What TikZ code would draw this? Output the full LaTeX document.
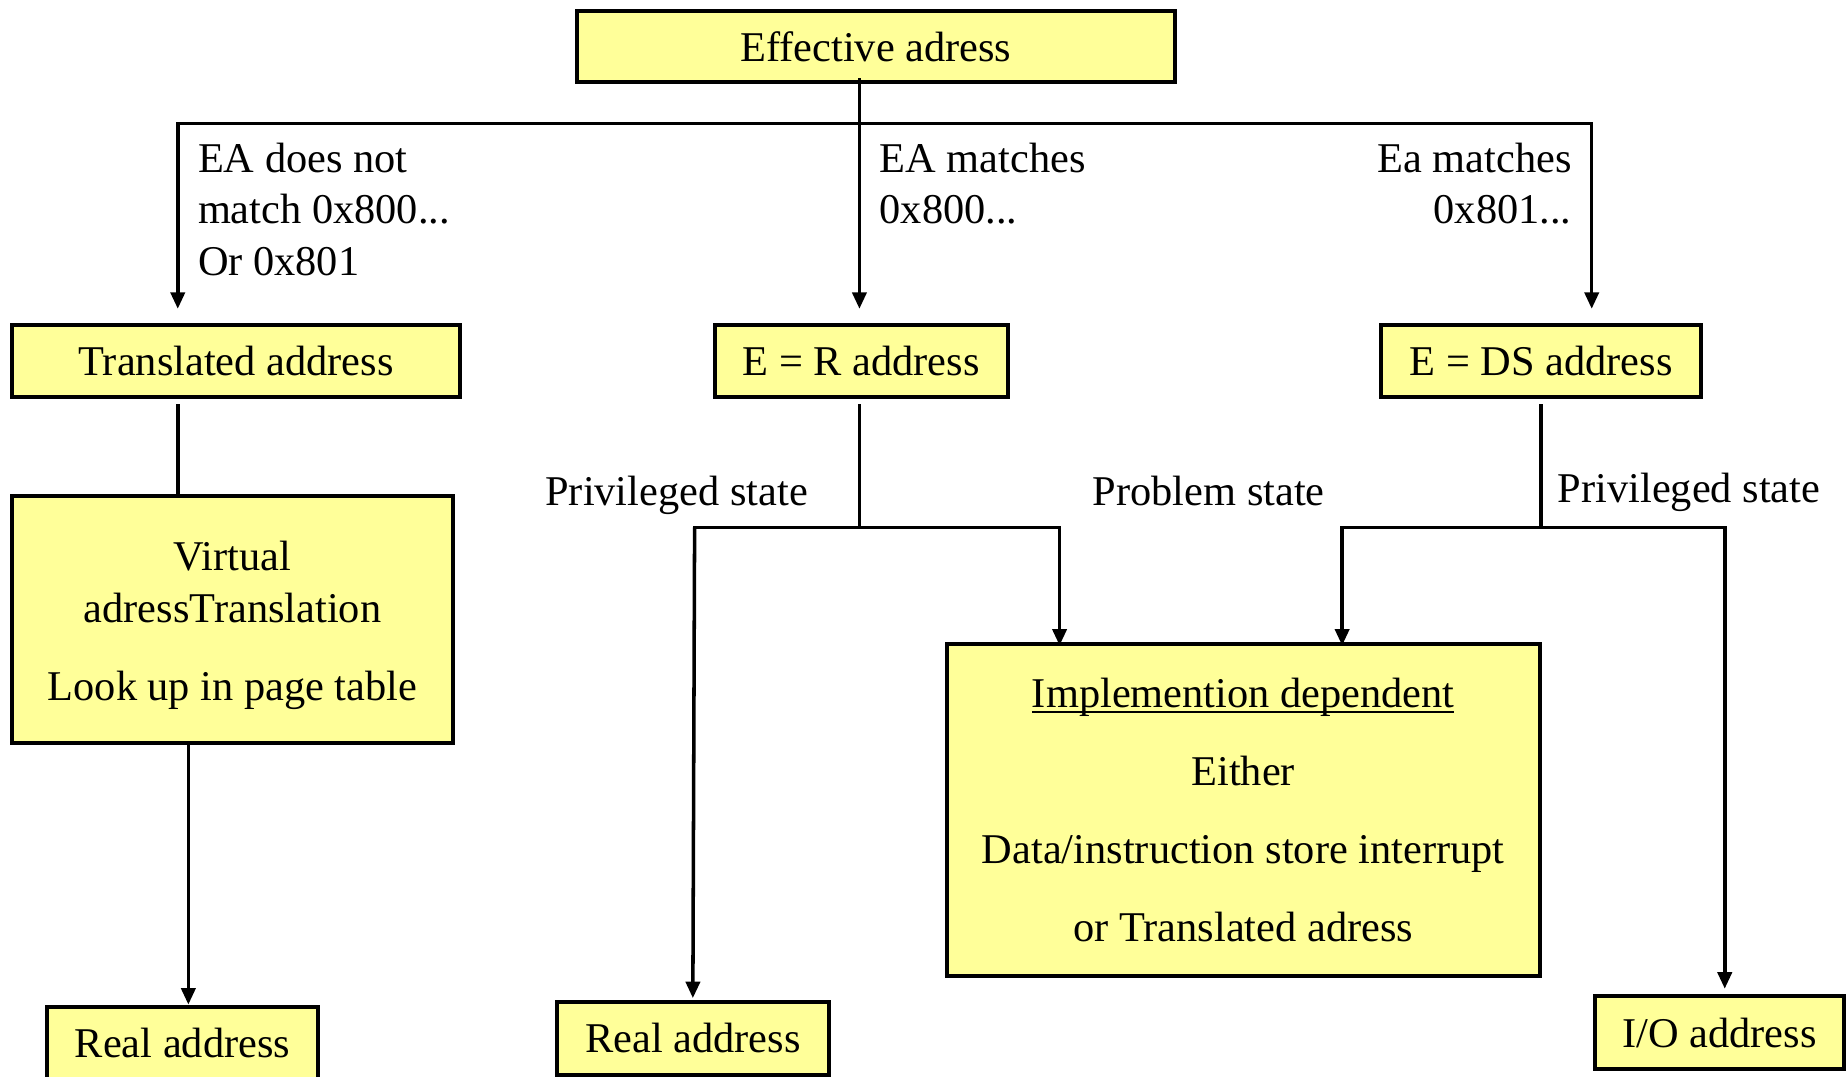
\documentclass[tikz,border=0pt]{standalone}
\usepackage{fontspec}
\setmainfont{Liberation Serif}
\usetikzlibrary{arrows.meta}
\definecolor{boxfill}{RGB}{255,255,153}
% underline set close to the baseline
\newcommand\ulined[1]{\setbox0\hbox{#1}\rlap{\rule[-4pt]{\wd0}{1.8pt}}\box0}
\begin{document}
\begin{tikzpicture}[x=1pt,y=-1pt,
  every node/.style={font=\fontsize{36}{44}\selectfont, inner sep=0pt},
  box/.style={draw, line width=3.4pt, fill=boxfill, minimum height=61pt},
  link/.style={line width=3pt, line cap=rect},
  arrow/.style={line width=3pt, -{Triangle[length=14pt,width=12pt]}}]

\useasboundingbox (0,0) rectangle (1568,914);

% boxes
\node[box, minimum width=508pt] (ea) at (744,39.5) {Effective adress};
\node[box, minimum width=381pt] (tr) at (200.5,306.5) {Translated address};
\node[box, minimum width=249pt] (er) at (731.5,306.5) {E = R address};
\node[box, minimum width=272pt] (ds) at (1309,306.5) {E = DS address};
\node[box, minimum width=375pt, minimum height=210pt, align=center] (virt) at (197.5,526)
  {\rule{0pt}{35pt}Virtual\\adressTranslation\\[22pt]Look up in page table};
\node[box, minimum width=230pt, minimum height=62pt] (real1) at (155,886) {Real address};
\node[box, minimum width=231pt, minimum height=62pt] (real2) at (588.5,882) {Real address};
\node[box, minimum width=211pt, minimum height=62pt] (io) at (1460.5,877) {I/O address};
\node[box, minimum width=504pt, minimum height=282pt, align=center,
  font=\fontsize{36}{66}\selectfont] (impl) at (1056,688)
  {\ulined{Implemention dependent}\\Either\\Data/instruction store interrupt\\or Translated adress};

% branch labels
\node[anchor=north west, align=left] (lnone) at (168,121) {EA does not\\match 0x800...\\Or 0x801};
\node[anchor=north west, align=left] (lr) at (747,121) {EA matches\\0x800...};
\node[anchor=north east, align=right] (lds) at (1335,121) {Ea matches\\0x801...};
\node[anchor=base west] (lpriv1) at (463,429) {Privileged state};
\node[anchor=base west] (lprob) at (928,429) {Problem state};
\node[anchor=base west] (lpriv2) at (1323,427) {Privileged state};

% junction points
\coordinate (j0) at (730,105);
\coordinate (hl) at (151,105);
\coordinate (hr) at (1352,105);
\coordinate (j1) at (730,448);
\coordinate (j1l) at (590,448);
\coordinate (j1r) at (900,448);
\coordinate (j2) at (1309,448);
\coordinate (j2l) at (1140,448);
\coordinate (j2r) at (1465,448);
\coordinate (vx) at (160,631);

% top split
\draw[link] ([yshift=4pt]ea.south -| j0) -- (j0);
\draw[link] (hl) -- (hr);
\draw[arrow, shorten >=12pt] (hl) -- (tr.north -| hl);
\draw[arrow, shorten >=12pt] (j0) -- (er.north -| j0);
\draw[arrow, shorten >=12pt] (hr) -- (ds.north -| hr);

% translated path
\draw[link] ([yshift=-6pt]tr.south -| hl) -- (virt.north -| hl);
\draw[arrow] (virt.south -| vx) -- (real1.north -| vx);

% E = R split
\draw[link] ([yshift=-6pt]er.south -| j1) -- (j1);
\draw[link] (j1l) -- (j1r);
\draw[arrow, shorten >=1.5pt] (j1l) -- (real2.north);
\draw[arrow, shorten >=-3pt] (j1r) -- (impl.north -| j1r);

% E = DS split
\draw[link] ([yshift=-6pt]ds.south -| j2) -- (j2);
\draw[link] (j2l) -- (j2r);
\draw[arrow, shorten >=-3pt] (j2l) -- (impl.north -| j2l);
\draw[arrow, shorten >=4.5pt] (j2r) -- (io.north -| j2r);
\end{tikzpicture}
\end{document}
